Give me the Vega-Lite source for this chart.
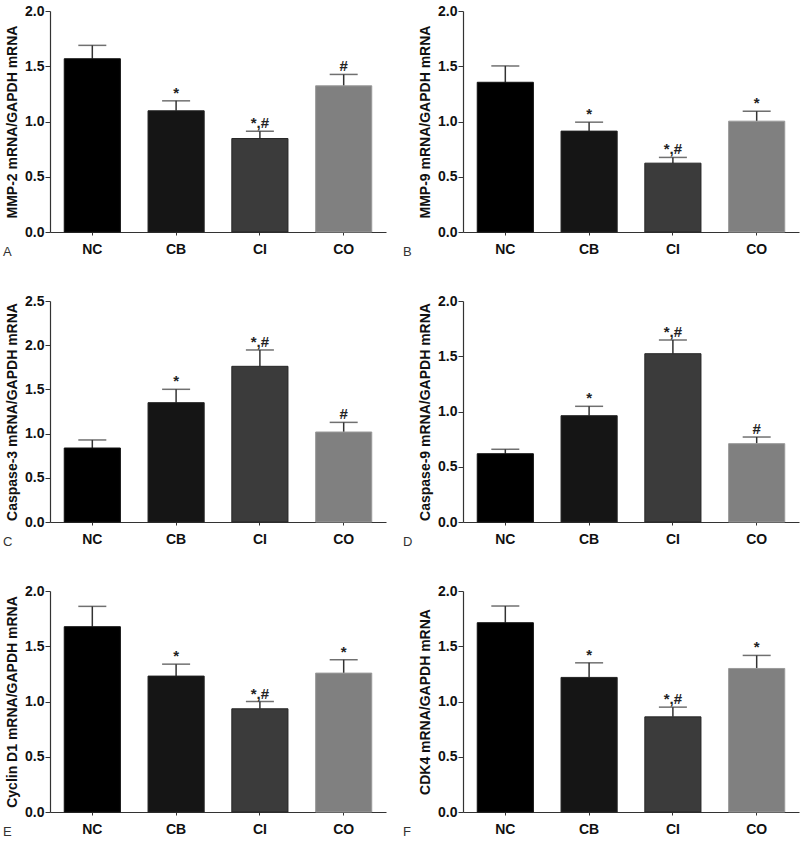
{
  "$schema": "https://vega.github.io/schema/vega-lite/v6.json",
  "background": "white",
  "padding": {"left": 3, "top": 4, "right": 5, "bottom": 5},
  "config": {
    "view": {"stroke": null},
    "font": "Liberation Sans",
    "axis": {"grid": false, "domainColor": "#333", "tickColor": "#333", "labelFont": "Liberation Sans", "labelFontWeight": "bold", "labelFontSize": 14, "labelColor": "#111", "titleFont": "Liberation Sans", "titleFontWeight": "bold", "titleFontSize": 14, "titleColor": "#111", "domainWidth": 1.2, "tickWidth": 1}
  },
  "datasets": {
    "rows": [
      {"panel": "A", "group": "NC", "value": 1.568, "err": 1.689, "sig": ""},
      {"panel": "A", "group": "CB", "value": 1.097, "err": 1.187, "sig": "*"},
      {"panel": "A", "group": "CI", "value": 0.846, "err": 0.912, "sig": "*,#"},
      {"panel": "A", "group": "CO", "value": 1.323, "err": 1.426, "sig": "#"},
      {"panel": "B", "group": "NC", "value": 1.355, "err": 1.503, "sig": ""},
      {"panel": "B", "group": "CB", "value": 0.913, "err": 0.994, "sig": "*"},
      {"panel": "B", "group": "CI", "value": 0.623, "err": 0.675, "sig": "*,#"},
      {"panel": "B", "group": "CO", "value": 1.003, "err": 1.093, "sig": "*"},
      {"panel": "C", "group": "NC", "value": 0.837, "err": 0.928, "sig": ""},
      {"panel": "C", "group": "CB", "value": 1.35, "err": 1.501, "sig": "*"},
      {"panel": "C", "group": "CI", "value": 1.761, "err": 1.946, "sig": "*,#"},
      {"panel": "C", "group": "CO", "value": 1.018, "err": 1.127, "sig": "#"},
      {"panel": "D", "group": "NC", "value": 0.618, "err": 0.658, "sig": ""},
      {"panel": "D", "group": "CB", "value": 0.962, "err": 1.047, "sig": "*"},
      {"panel": "D", "group": "CI", "value": 1.523, "err": 1.647, "sig": "*,#"},
      {"panel": "D", "group": "CO", "value": 0.709, "err": 0.769, "sig": "#"},
      {"panel": "E", "group": "NC", "value": 1.677, "err": 1.861, "sig": ""},
      {"panel": "E", "group": "CB", "value": 1.23, "err": 1.338, "sig": "*"},
      {"panel": "E", "group": "CI", "value": 0.934, "err": 1.0, "sig": "*,#"},
      {"panel": "E", "group": "CO", "value": 1.257, "err": 1.378, "sig": "*"},
      {"panel": "F", "group": "NC", "value": 1.713, "err": 1.864, "sig": ""},
      {"panel": "F", "group": "CB", "value": 1.218, "err": 1.35, "sig": "*"},
      {"panel": "F", "group": "CI", "value": 0.861, "err": 0.949, "sig": "*,#"},
      {"panel": "F", "group": "CO", "value": 1.299, "err": 1.417, "sig": "*"}
    ]
  },
  "columns": 2,
  "bounds": "flush",
  "spacing": {"row": 69, "column": 77},
  "concat": [
    {
      "width": 336, "height": 221,
      "title": {"text": "A", "orient": "bottom", "anchor": "start", "frame": "group", "dx": -47, "offset": -10, "fontSize": 13, "fontWeight": "normal", "color": "#333"},
      "data": {"name": "rows"},
      "transform": [{"filter": "datum.panel === 'A'"}],
      "encoding": {"x": {"field": "group", "type": "nominal", "sort": ["NC", "CB", "CI", "CO"], "scale": {"paddingInner": 0.33, "paddingOuter": 0.17}, "axis": {"title": null, "labelAngle": 0, "tickSize": 3, "labelPadding": 7}}},
      "layer": [
        {"mark": {"type": "rule", "color": "#333", "strokeWidth": 1.5}, "encoding": {"y": {"field": "value", "type": "quantitative"}, "y2": {"field": "err"}}},
        {"mark": {"type": "tick", "color": "#333", "size": 28, "thickness": 1.5, "orient": "horizontal"}, "encoding": {"y": {"field": "err", "type": "quantitative"}}},
        {"mark": {"type": "bar", "strokeWidth": 1}, "encoding": {
          "y": {"field": "value", "type": "quantitative", "scale": {"domain": [0, 2], "nice": false}, "axis": {"title": "MMP-2 mRNA/GAPDH mRNA", "values": [0, 0.25, 0.5, 0.75, 1, 1.25, 1.5, 1.75, 2], "labelExpr": "datum.value % 0.5 === 0 ? format(datum.value, '.1f') : ''", "tickSize": {"condition": {"test": "datum.value % 0.5 === 0", "value": 5}, "value": 3}, "labelPadding": 1, "titlePadding": 5}},
          "color": {"field": "group", "type": "nominal", "scale": {"domain": ["NC", "CB", "CI", "CO"], "range": ["#000000", "#151515", "#3b3b3b", "#808080"]}, "legend": null},
          "stroke": {"field": "group", "type": "nominal", "scale": {"domain": ["NC", "CB", "CI", "CO"], "range": ["#111111", "#222222", "#262626", "#9a9a9a"]}, "legend": null}}},
        {"mark": {"type": "text", "baseline": "alphabetic", "dy": -3, "fontSize": 15, "fontWeight": "bold", "color": "#222"}, "encoding": {"y": {"field": "err", "type": "quantitative"}, "text": {"field": "sig"}}}
      ]
    },
    {
      "width": 336, "height": 221,
      "title": {"text": "B", "orient": "bottom", "anchor": "start", "frame": "group", "dx": -60, "offset": -10, "fontSize": 13, "fontWeight": "normal", "color": "#333"},
      "data": {"name": "rows"},
      "transform": [{"filter": "datum.panel === 'B'"}],
      "encoding": {"x": {"field": "group", "type": "nominal", "sort": ["NC", "CB", "CI", "CO"], "scale": {"paddingInner": 0.33, "paddingOuter": 0.17}, "axis": {"title": null, "labelAngle": 0, "tickSize": 3, "labelPadding": 7}}},
      "layer": [
        {"mark": {"type": "rule", "color": "#333", "strokeWidth": 1.5}, "encoding": {"y": {"field": "value", "type": "quantitative"}, "y2": {"field": "err"}}},
        {"mark": {"type": "tick", "color": "#333", "size": 28, "thickness": 1.5, "orient": "horizontal"}, "encoding": {"y": {"field": "err", "type": "quantitative"}}},
        {"mark": {"type": "bar", "strokeWidth": 1}, "encoding": {
          "y": {"field": "value", "type": "quantitative", "scale": {"domain": [0, 2], "nice": false}, "axis": {"title": "MMP-9 mRNA/GAPDH mRNA", "values": [0, 0.25, 0.5, 0.75, 1, 1.25, 1.5, 1.75, 2], "labelExpr": "datum.value % 0.5 === 0 ? format(datum.value, '.1f') : ''", "tickSize": {"condition": {"test": "datum.value % 0.5 === 0", "value": 5}, "value": 3}, "labelPadding": 1, "titlePadding": 5}},
          "color": {"field": "group", "type": "nominal", "scale": {"domain": ["NC", "CB", "CI", "CO"], "range": ["#000000", "#151515", "#3b3b3b", "#808080"]}, "legend": null},
          "stroke": {"field": "group", "type": "nominal", "scale": {"domain": ["NC", "CB", "CI", "CO"], "range": ["#111111", "#222222", "#262626", "#9a9a9a"]}, "legend": null}}},
        {"mark": {"type": "text", "baseline": "alphabetic", "dy": -3, "fontSize": 15, "fontWeight": "bold", "color": "#222"}, "encoding": {"y": {"field": "err", "type": "quantitative"}, "text": {"field": "sig"}}}
      ]
    },
    {
      "width": 336, "height": 221,
      "title": {"text": "C", "orient": "bottom", "anchor": "start", "frame": "group", "dx": -47, "offset": -10, "fontSize": 13, "fontWeight": "normal", "color": "#333"},
      "data": {"name": "rows"},
      "transform": [{"filter": "datum.panel === 'C'"}],
      "encoding": {"x": {"field": "group", "type": "nominal", "sort": ["NC", "CB", "CI", "CO"], "scale": {"paddingInner": 0.33, "paddingOuter": 0.17}, "axis": {"title": null, "labelAngle": 0, "tickSize": 3, "labelPadding": 7}}},
      "layer": [
        {"mark": {"type": "rule", "color": "#333", "strokeWidth": 1.5}, "encoding": {"y": {"field": "value", "type": "quantitative"}, "y2": {"field": "err"}}},
        {"mark": {"type": "tick", "color": "#333", "size": 28, "thickness": 1.5, "orient": "horizontal"}, "encoding": {"y": {"field": "err", "type": "quantitative"}}},
        {"mark": {"type": "bar", "strokeWidth": 1}, "encoding": {
          "y": {"field": "value", "type": "quantitative", "scale": {"domain": [0, 2.5], "nice": false}, "axis": {"title": "Caspase-3 mRNA/GAPDH mRNA", "values": [0, 0.25, 0.5, 0.75, 1, 1.25, 1.5, 1.75, 2, 2.25, 2.5], "labelExpr": "datum.value % 0.5 === 0 ? format(datum.value, '.1f') : ''", "tickSize": {"condition": {"test": "datum.value % 0.5 === 0", "value": 5}, "value": 3}, "labelPadding": 1, "titlePadding": 5}},
          "color": {"field": "group", "type": "nominal", "scale": {"domain": ["NC", "CB", "CI", "CO"], "range": ["#000000", "#151515", "#3b3b3b", "#808080"]}, "legend": null},
          "stroke": {"field": "group", "type": "nominal", "scale": {"domain": ["NC", "CB", "CI", "CO"], "range": ["#111111", "#222222", "#262626", "#9a9a9a"]}, "legend": null}}},
        {"mark": {"type": "text", "baseline": "alphabetic", "dy": -3, "fontSize": 15, "fontWeight": "bold", "color": "#222"}, "encoding": {"y": {"field": "err", "type": "quantitative"}, "text": {"field": "sig"}}}
      ]
    },
    {
      "width": 336, "height": 221,
      "title": {"text": "D", "orient": "bottom", "anchor": "start", "frame": "group", "dx": -60, "offset": -10, "fontSize": 13, "fontWeight": "normal", "color": "#333"},
      "data": {"name": "rows"},
      "transform": [{"filter": "datum.panel === 'D'"}],
      "encoding": {"x": {"field": "group", "type": "nominal", "sort": ["NC", "CB", "CI", "CO"], "scale": {"paddingInner": 0.33, "paddingOuter": 0.17}, "axis": {"title": null, "labelAngle": 0, "tickSize": 3, "labelPadding": 7}}},
      "layer": [
        {"mark": {"type": "rule", "color": "#333", "strokeWidth": 1.5}, "encoding": {"y": {"field": "value", "type": "quantitative"}, "y2": {"field": "err"}}},
        {"mark": {"type": "tick", "color": "#333", "size": 28, "thickness": 1.5, "orient": "horizontal"}, "encoding": {"y": {"field": "err", "type": "quantitative"}}},
        {"mark": {"type": "bar", "strokeWidth": 1}, "encoding": {
          "y": {"field": "value", "type": "quantitative", "scale": {"domain": [0, 2], "nice": false}, "axis": {"title": "Caspase-9 mRNA/GAPDH mRNA", "values": [0, 0.25, 0.5, 0.75, 1, 1.25, 1.5, 1.75, 2], "labelExpr": "datum.value % 0.5 === 0 ? format(datum.value, '.1f') : ''", "tickSize": {"condition": {"test": "datum.value % 0.5 === 0", "value": 5}, "value": 3}, "labelPadding": 1, "titlePadding": 5}},
          "color": {"field": "group", "type": "nominal", "scale": {"domain": ["NC", "CB", "CI", "CO"], "range": ["#000000", "#151515", "#3b3b3b", "#808080"]}, "legend": null},
          "stroke": {"field": "group", "type": "nominal", "scale": {"domain": ["NC", "CB", "CI", "CO"], "range": ["#111111", "#222222", "#262626", "#9a9a9a"]}, "legend": null}}},
        {"mark": {"type": "text", "baseline": "alphabetic", "dy": -3, "fontSize": 15, "fontWeight": "bold", "color": "#222"}, "encoding": {"y": {"field": "err", "type": "quantitative"}, "text": {"field": "sig"}}}
      ]
    },
    {
      "width": 336, "height": 221,
      "title": {"text": "E", "orient": "bottom", "anchor": "start", "frame": "group", "dx": -47, "offset": -10, "fontSize": 13, "fontWeight": "normal", "color": "#333"},
      "data": {"name": "rows"},
      "transform": [{"filter": "datum.panel === 'E'"}],
      "encoding": {"x": {"field": "group", "type": "nominal", "sort": ["NC", "CB", "CI", "CO"], "scale": {"paddingInner": 0.33, "paddingOuter": 0.17}, "axis": {"title": null, "labelAngle": 0, "tickSize": 3, "labelPadding": 7}}},
      "layer": [
        {"mark": {"type": "rule", "color": "#333", "strokeWidth": 1.5}, "encoding": {"y": {"field": "value", "type": "quantitative"}, "y2": {"field": "err"}}},
        {"mark": {"type": "tick", "color": "#333", "size": 28, "thickness": 1.5, "orient": "horizontal"}, "encoding": {"y": {"field": "err", "type": "quantitative"}}},
        {"mark": {"type": "bar", "strokeWidth": 1}, "encoding": {
          "y": {"field": "value", "type": "quantitative", "scale": {"domain": [0, 2], "nice": false}, "axis": {"title": "Cyclin D1 mRNA/GAPDH mRNA", "values": [0, 0.25, 0.5, 0.75, 1, 1.25, 1.5, 1.75, 2], "labelExpr": "datum.value % 0.5 === 0 ? format(datum.value, '.1f') : ''", "tickSize": {"condition": {"test": "datum.value % 0.5 === 0", "value": 5}, "value": 3}, "labelPadding": 1, "titlePadding": 5}},
          "color": {"field": "group", "type": "nominal", "scale": {"domain": ["NC", "CB", "CI", "CO"], "range": ["#000000", "#151515", "#3b3b3b", "#808080"]}, "legend": null},
          "stroke": {"field": "group", "type": "nominal", "scale": {"domain": ["NC", "CB", "CI", "CO"], "range": ["#111111", "#222222", "#262626", "#9a9a9a"]}, "legend": null}}},
        {"mark": {"type": "text", "baseline": "alphabetic", "dy": -3, "fontSize": 15, "fontWeight": "bold", "color": "#222"}, "encoding": {"y": {"field": "err", "type": "quantitative"}, "text": {"field": "sig"}}}
      ]
    },
    {
      "width": 336, "height": 221,
      "title": {"text": "F", "orient": "bottom", "anchor": "start", "frame": "group", "dx": -60, "offset": -10, "fontSize": 13, "fontWeight": "normal", "color": "#333"},
      "data": {"name": "rows"},
      "transform": [{"filter": "datum.panel === 'F'"}],
      "encoding": {"x": {"field": "group", "type": "nominal", "sort": ["NC", "CB", "CI", "CO"], "scale": {"paddingInner": 0.33, "paddingOuter": 0.17}, "axis": {"title": null, "labelAngle": 0, "tickSize": 3, "labelPadding": 7}}},
      "layer": [
        {"mark": {"type": "rule", "color": "#333", "strokeWidth": 1.5}, "encoding": {"y": {"field": "value", "type": "quantitative"}, "y2": {"field": "err"}}},
        {"mark": {"type": "tick", "color": "#333", "size": 28, "thickness": 1.5, "orient": "horizontal"}, "encoding": {"y": {"field": "err", "type": "quantitative"}}},
        {"mark": {"type": "bar", "strokeWidth": 1}, "encoding": {
          "y": {"field": "value", "type": "quantitative", "scale": {"domain": [0, 2], "nice": false}, "axis": {"title": "CDK4 mRNA/GAPDH mRNA", "values": [0, 0.25, 0.5, 0.75, 1, 1.25, 1.5, 1.75, 2], "labelExpr": "datum.value % 0.5 === 0 ? format(datum.value, '.1f') : ''", "tickSize": {"condition": {"test": "datum.value % 0.5 === 0", "value": 5}, "value": 3}, "labelPadding": 1, "titlePadding": 5}},
          "color": {"field": "group", "type": "nominal", "scale": {"domain": ["NC", "CB", "CI", "CO"], "range": ["#000000", "#151515", "#3b3b3b", "#808080"]}, "legend": null},
          "stroke": {"field": "group", "type": "nominal", "scale": {"domain": ["NC", "CB", "CI", "CO"], "range": ["#111111", "#222222", "#262626", "#9a9a9a"]}, "legend": null}}},
        {"mark": {"type": "text", "baseline": "alphabetic", "dy": -3, "fontSize": 15, "fontWeight": "bold", "color": "#222"}, "encoding": {"y": {"field": "err", "type": "quantitative"}, "text": {"field": "sig"}}}
      ]
    }
  ]
}
